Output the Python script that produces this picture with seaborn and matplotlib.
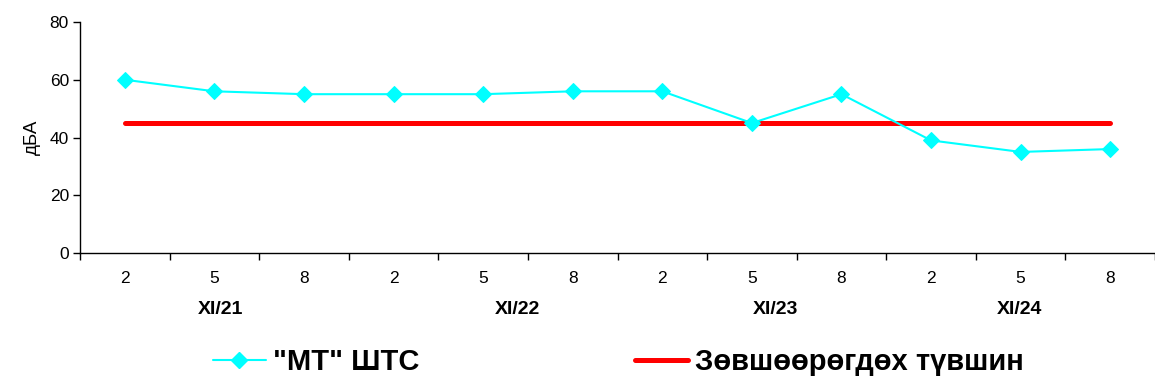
import matplotlib
matplotlib.use("Agg")
import matplotlib.pyplot as plt
import matplotlib.transforms as mtransforms
import seaborn as sns
import numpy as np
import pandas as pd
from matplotlib.lines import Line2D

hours = ["2", "5", "8", "2", "5", "8", "2", "5", "8", "2", "5", "8"]
groups = ["XI/21", "XI/22", "XI/23", "XI/24"]
group_pos = [1.07, 4.38, 7.26, 9.99]
mt_values = [60, 56, 55, 55, 55, 56, 56, 45, 55, 39, 35, 36]
limit_values = [45] * 12
series_mt = '"МТ" ШТС'
series_limit = "Зөвшөөрөгдөх түвшин"
ylabel = "дБА"

sns.set_style("white")
plt.rcParams['font.family'] = ['Liberation Sans', 'DejaVu Sans']
for k in ["text.color", "axes.labelcolor", "xtick.color", "ytick.color"]:
    plt.rcParams[k] = "black"

fig = plt.figure(figsize=(11.55, 3.87), dpi=100)
W, H = 1155, 387
ax = fig.add_axes([80 / W, 1 - 253 / H, (1155 - 80) / W, (253 - 22) / H])

idx = np.arange(len(hours))
df = pd.DataFrame({"x": idx, "mt": mt_values, "lim": limit_values})

sns.lineplot(data=df, x="x", y="lim", ax=ax, color="#ff0000", linewidth=3.6,
             solid_capstyle="round", zorder=2)
sns.lineplot(data=df, x="x", y="mt", ax=ax, color="#00ffff", linewidth=1.5,
             marker="D", markersize=8.5, markeredgecolor="#00ffff", zorder=3)

cat_w = 90.2
ax.set_xlim(-0.5, -0.5 + (1155 - 80) / cat_w)
ax.set_ylim(0, 80)
ax.set_yticks([0, 20, 40, 60, 80])
ax.tick_params(axis="y", labelsize=12.5, length=5, width=1, direction="out", left=True, pad=3)
ax.set_xticks(np.arange(-0.5, 12, 1.0))
ax.set_xticklabels([])
ax.set_xticks(idx, minor=True)
ax.set_xticklabels(hours, minor=True)
ax.tick_params(axis="x", which="major", length=5, width=1, direction="out", bottom=True)
ax.tick_params(axis="x", which="minor", length=0, labelsize=12.5, pad=13)
ax.set_xlabel("")
ax.set_ylabel(ylabel, fontsize=13.5, labelpad=6)

for s in ["top", "right"]:
    ax.spines[s].set_visible(False)
for s in ["left", "bottom"]:
    ax.spines[s].set_color("black")
    ax.spines[s].set_linewidth(1)

trans = mtransforms.blended_transform_factory(ax.transData, fig.transFigure)
for g, p in zip(groups, group_pos):
    ax.text(p, 1 - 310 / H, g, transform=trans, fontsize=14, fontweight="bold",
            ha="center", va="center")

handles = [
    Line2D([], [], color="#00ffff", linewidth=1.5, marker="D", markersize=8.5),
    Line2D([], [], color="#ff0000", linewidth=3.6, solid_capstyle="round"),
]
fig.legend(handles, [series_mt, series_limit], loc="center left",
           bbox_to_anchor=(213 / W, 1 - 362 / H), ncol=2, frameon=False,
           prop={"size": 21, "weight": "bold"}, handlelength=1.8,
           handletextpad=0.25, columnspacing=7.4, borderpad=0, borderaxespad=0)

fig.savefig("out.png", dpi=100)
